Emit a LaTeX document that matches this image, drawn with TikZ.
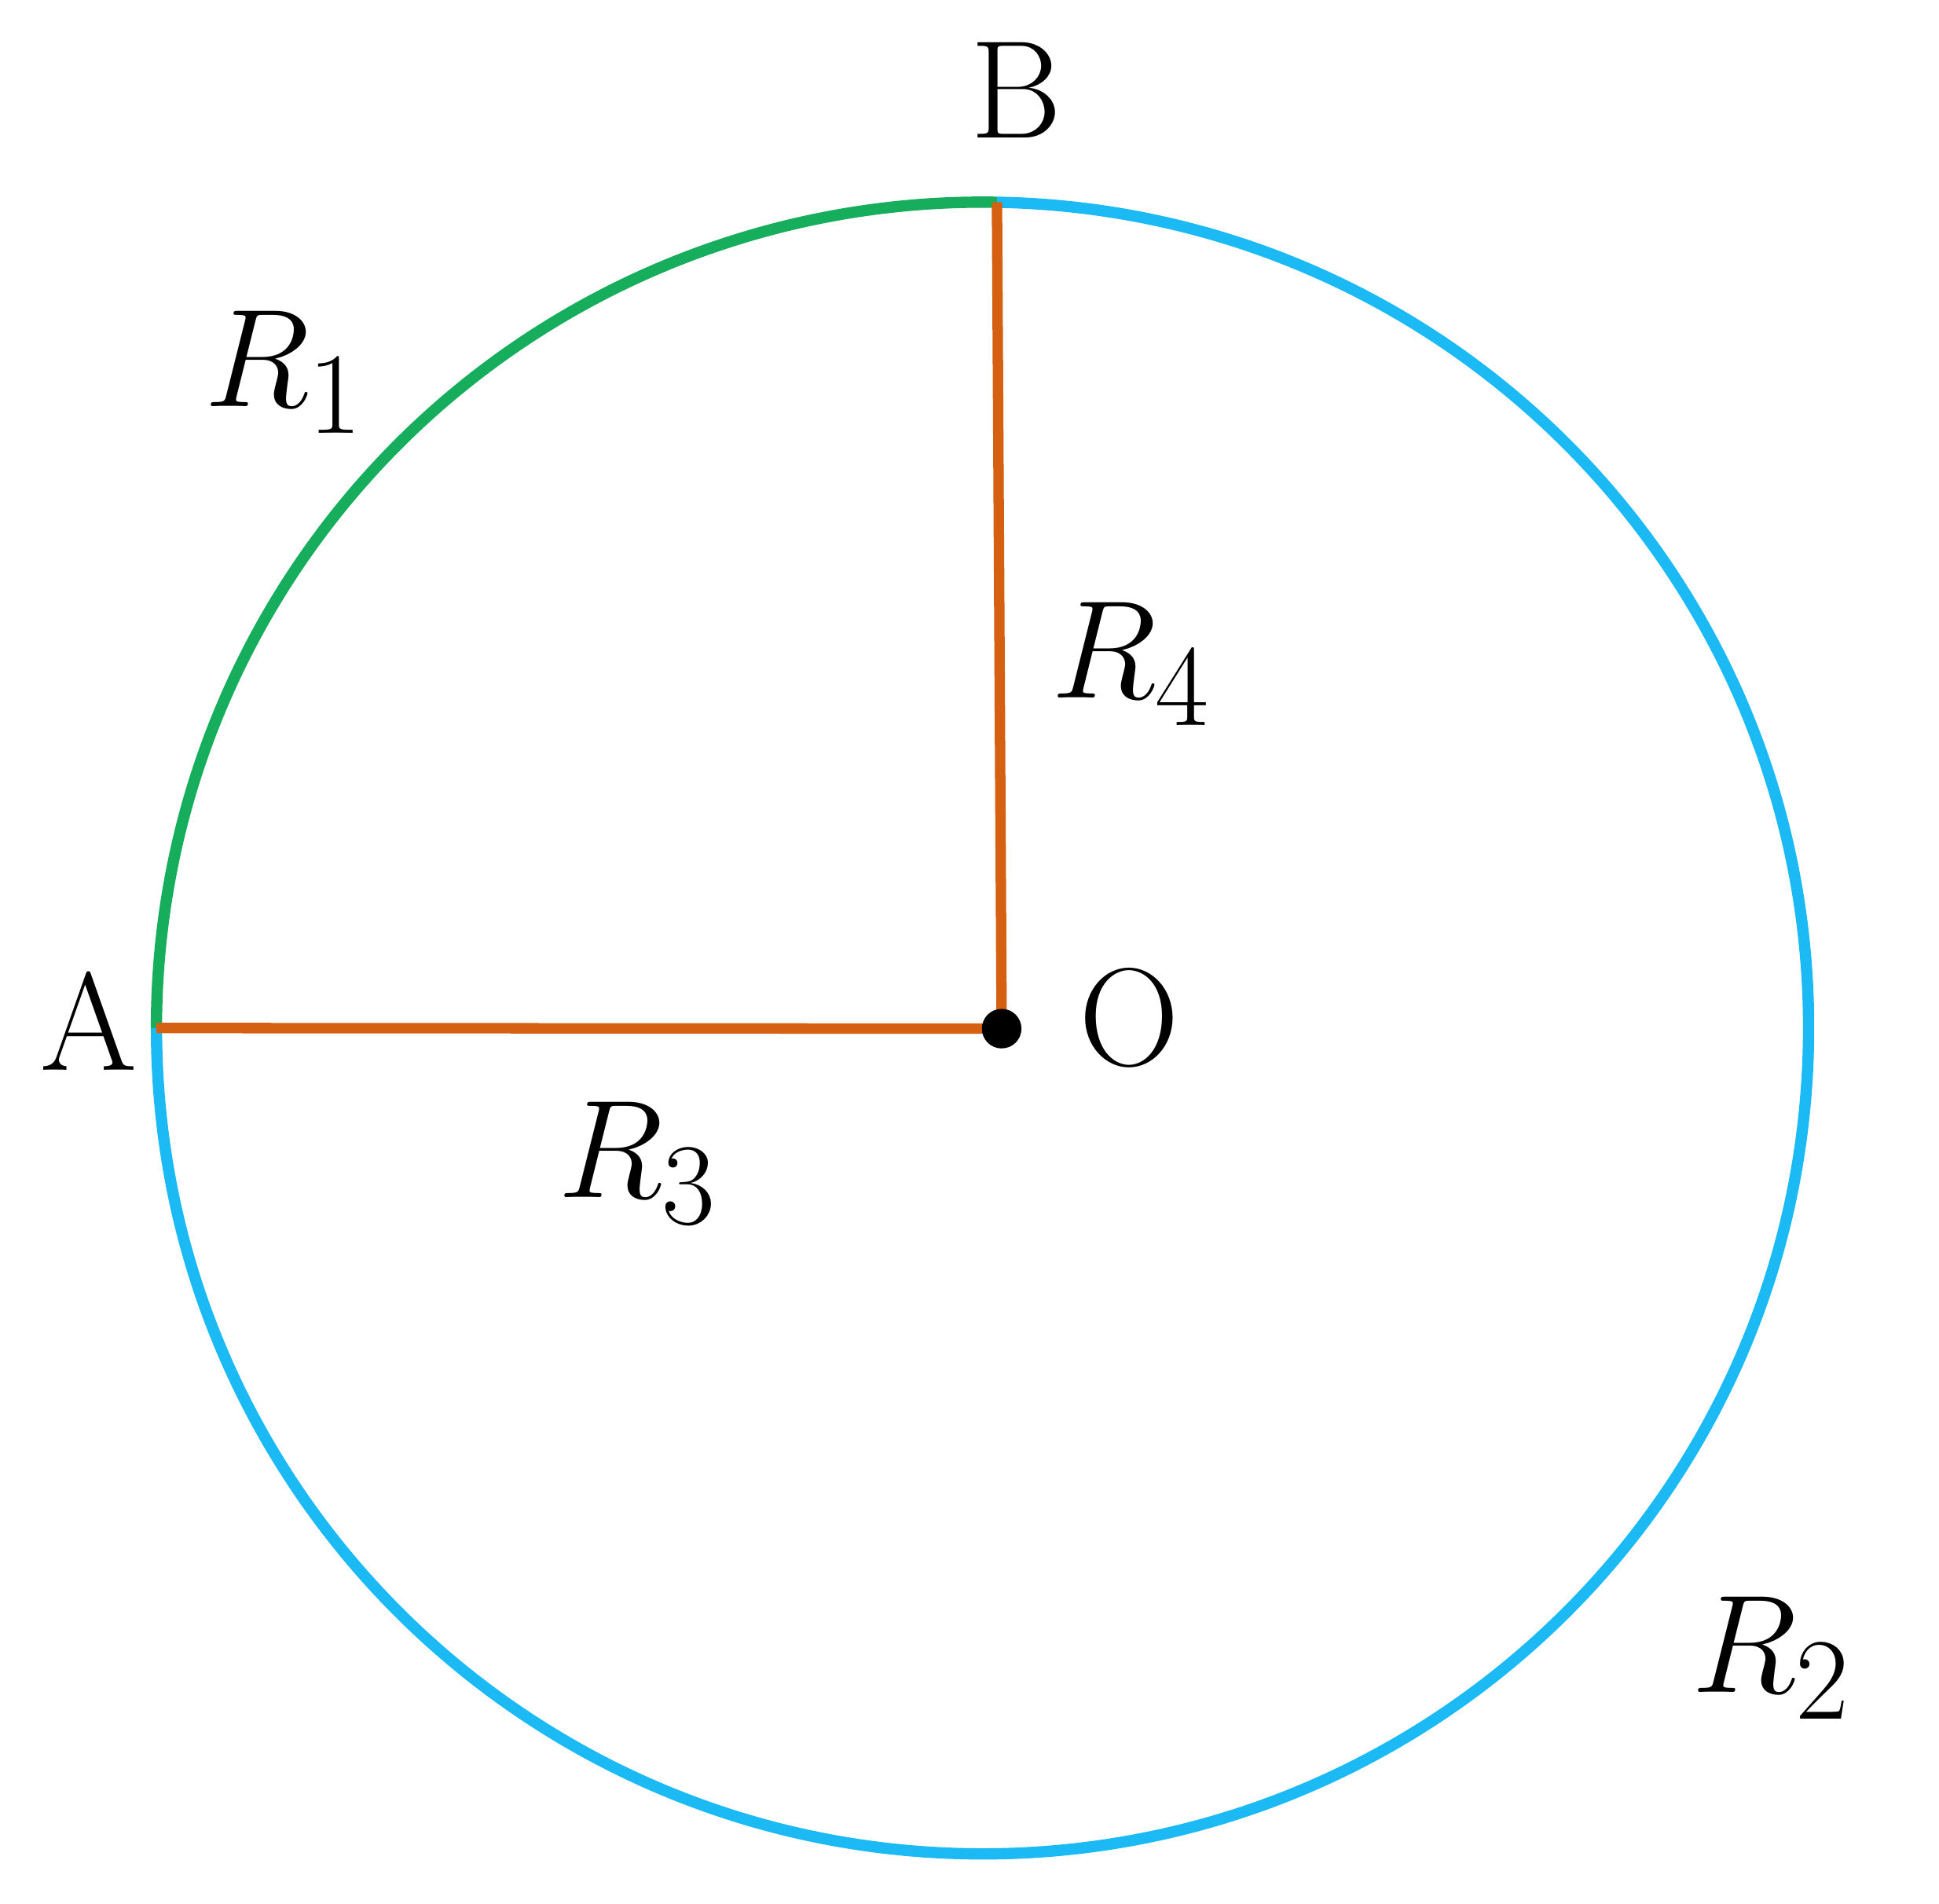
\documentclass[tikz,border=0pt]{standalone}
\usepackage{amsmath,amssymb}
\usepackage{xcolor}
\definecolor{arcgreen}{RGB}{22,174,92}
\definecolor{arcblue}{RGB}{28,186,245}
\definecolor{radorange}{RGB}{214,96,18}
\usepackage{tikz}
\tikzstyle{lbl} = [inner sep=0pt, font=\Huge, scale=1.29]
\tikzstyle{arcgr} = [draw=arcgreen, line width=2.6pt]
\tikzstyle{arcbl} = [draw=arcblue, line width=2.6pt]
\tikzstyle{radline} = [draw=radorange, line width=2.4pt]

\begin{document}
\begin{tikzpicture}
  \useasboundingbox (0,0) rectangle (15.68,15.40);
  \coordinate (c) at (7.945,7.085);
  \coordinate (A) at (1.265,7.085);
  \coordinate (B) at (8.062,13.764);
  \coordinate (O) at (8.10,7.08);

  \path[arcgr] (A) arc[start angle=180, end angle=89, radius=6.68];
  \path[arcbl] (B) arc[start angle=89, end angle=-180, radius=6.68];

  \path[radline] (A) -- (O);
  \path[radline] (O) -- (B);
  \fill (O) circle (0.16);

  \node[lbl] (a) at (0.72,7.14) {A};
  \node[lbl] (b) at (8.22,14.67) {B};
  \node[lbl] (o) at (9.13,7.17) {O};
  \node[lbl] (r1) at (2.30,12.39) {$R_1$};
  \node[lbl] (r2) at (14.33,1.99) {$R_2$};
  \node[lbl] (r3) at (5.16,5.99) {$R_3$};
  \node[lbl] (r4) at (9.15,10.03) {$R_4$};
\end{tikzpicture}
\end{document}
